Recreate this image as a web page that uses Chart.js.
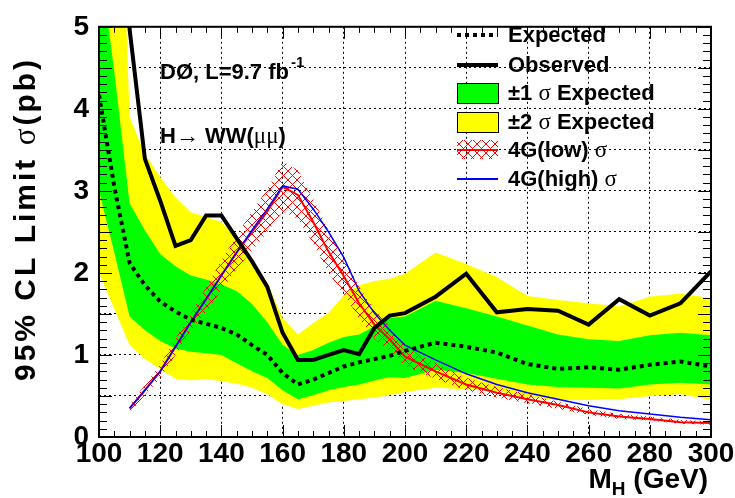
<!DOCTYPE html>
<html><head><meta charset="utf-8">
<script src="https://cdn.jsdelivr.net/npm/chart.js@4"></script>
<style>html,body{margin:0;padding:0;background:#fff;}#wrap{width:735px;height:498px;position:relative;}</style>
</head><body><div id="wrap"><canvas id="c" width="735" height="498"></canvas></div>
<script>
const masses = [100,105,110,115,120,125,130,135,140,145,150,155,160,165,170,175,180,185,190,195,200,210,220,230,240,250,260,270,280,290,300];
const observed = [12,9,4.97,3.39,2.88,2.33,2.40,2.70,2.70,2.42,2.14,1.83,1.27,0.94,0.94,1.00,1.06,1.01,1.33,1.48,1.51,1.71,1.99,1.52,1.56,1.54,1.37,1.68,1.48,1.63,2.02];
const expected = [4.17,3.05,2.12,1.85,1.65,1.53,1.43,1.38,1.33,1.25,1.12,1.00,0.78,0.64,0.70,0.78,0.86,0.91,0.95,0.99,1.05,1.15,1.10,1.03,0.89,0.83,0.85,0.82,0.88,0.92,0.86];
const sigma1Up = [5.9,4.45,2.85,2.52,2.23,2.08,1.97,1.92,1.86,1.78,1.62,1.40,1.12,1.00,1.06,1.15,1.22,1.25,1.35,1.45,1.47,1.66,1.57,1.47,1.36,1.25,1.19,1.17,1.24,1.27,1.24];
const sigma1Dn = [3.0,2.25,1.47,1.30,1.17,1.08,1.04,1.02,1.00,0.90,0.80,0.72,0.57,0.46,0.51,0.57,0.61,0.64,0.69,0.73,0.72,0.82,0.78,0.71,0.64,0.61,0.60,0.59,0.64,0.66,0.64];
const sigma2Up = [15,9.3,3.9,3.45,3.17,2.92,2.74,2.68,2.62,2.42,2.17,1.88,1.45,1.25,1.39,1.51,1.73,1.85,1.90,1.93,1.99,2.25,2.11,1.95,1.72,1.67,1.63,1.59,1.71,1.75,1.69];
const sigma2Dn = [2.0,1.56,1.12,0.95,0.83,0.71,0.69,0.71,0.68,0.65,0.60,0.52,0.40,0.34,0.38,0.42,0.44,0.46,0.48,0.51,0.55,0.60,0.58,0.56,0.48,0.45,0.45,0.46,0.50,0.52,0.45];
const g4Low = [null,null,0.35,0.57,0.80,1.10,1.40,1.68,1.97,2.25,2.50,2.75,3.05,2.95,2.62,2.26,1.96,1.63,1.37,1.19,0.98,0.80,0.64,0.54,0.46,0.39,0.30,0.25,0.22,0.18,0.17];
const g4LowUp = [null,null,0.40,0.63,0.88,1.20,1.50,1.83,2.15,2.46,2.75,3.02,3.36,3.25,2.90,2.52,2.20,1.83,1.55,1.34,1.10,0.90,0.72,0.61,0.52,0.43,0.34,0.28,0.25,0.21,0.19];
const g4LowDn = [null,null,0.30,0.51,0.72,1.00,1.30,1.53,1.79,2.05,2.27,2.50,2.75,2.66,2.36,2.00,1.74,1.45,1.20,1.05,0.87,0.71,0.57,0.48,0.41,0.34,0.27,0.22,0.20,0.16,0.15];
const g4High = [null,null,0.35,0.57,0.80,1.10,1.40,1.68,1.97,2.25,2.52,2.78,3.06,3.02,2.78,2.50,2.19,1.78,1.51,1.30,1.12,0.94,0.77,0.64,0.54,0.46,0.38,0.32,0.28,0.24,0.21];
const xTicks = [100,120,140,160,180,200,220,240,260,280,300];
const yTicks = [0,1,2,3,4,5];

function pts(vals){ return masses.map((m,i)=>({x:m,y:vals[i]})).filter(p=>p.y!==null); }

function makeHatch(){
  const n=9;
  const c=document.createElement('canvas'); c.width=n; c.height=n;
  const g=c.getContext('2d'); g.strokeStyle='#ff0000'; g.lineWidth=1;
  g.beginPath(); g.moveTo(0,0); g.lineTo(n,n); g.moveTo(n,0); g.lineTo(0,n); g.stroke();
  return g.createPattern(c,'repeat');
}
const hatch = makeHatch();

const BOLD = '"Liberation Sans", Arial, sans-serif';
const SERIF = '"Liberation Serif", "DejaVu Serif", serif';

function runsWidth(ctx, runs){ let w=0; for(const r of runs){ ctx.font=r.f; w+=ctx.measureText(r.t).width; } return w; }
function drawRuns(ctx, x, y, runs){
  let cx=x;
  for(const r of runs){ ctx.font=r.f; ctx.fillText(r.t, cx, y+(r.dy||0)); cx+=ctx.measureText(r.t).width; }
  return cx;
}

const base = {pointRadius:0, tension:0, borderWidth:0, borderColor:'rgba(0,0,0,0)', fill:false};

const overlay = {
  id:'overlay',
  beforeDraw(chart){ const c=chart.ctx; c.save(); c.fillStyle='#fff'; c.fillRect(0,0,chart.width,chart.height); c.restore(); },
  afterDraw(chart){
    const ctx=chart.ctx, a=chart.chartArea, xs=chart.scales.x, ys=chart.scales.y;
    ctx.save();
    ctx.strokeStyle='#000'; ctx.lineWidth=1;
    ctx.beginPath();
    for(let m=100;m<=300;m+=5){
      const px=Math.round(xs.getPixelForValue(m))+0.5, L=(m%20===0)?12:6;
      ctx.moveTo(px,a.bottom); ctx.lineTo(px,a.bottom-L);
      ctx.moveTo(px,a.top); ctx.lineTo(px,a.top+L);
    }
    for(let k=0;k<=50;k++){
      const v=k/10, py=Math.round(ys.getPixelForValue(v))+0.5, L=(k%5===0)?13:8;
      ctx.moveTo(a.left,py); ctx.lineTo(a.left+L,py);
      ctx.moveTo(a.right,py); ctx.lineTo(a.right-L,py);
    }
    ctx.stroke();
    ctx.lineWidth=2; ctx.strokeRect(a.left,a.top,a.right-a.left,a.bottom-a.top);

    // legend
    const lx0=457, lx1=498, tx=508;
    ctx.textBaseline='middle'; ctx.fillStyle='#000';
    ctx.lineWidth=4; ctx.setLineDash([4,4]);
    ctx.beginPath(); ctx.moveTo(lx0,35); ctx.lineTo(lx1,35); ctx.stroke();
    ctx.setLineDash([]);
    ctx.beginPath(); ctx.moveTo(lx0,65); ctx.lineTo(lx1,65); ctx.stroke();
    ctx.lineWidth=1;
    ctx.fillStyle='#00ff00'; ctx.fillRect(lx0,83,41,20); ctx.strokeRect(lx0+0.5,83.5,41,20);
    ctx.fillStyle='#ffff00'; ctx.fillRect(lx0,112,41,20); ctx.strokeRect(lx0+0.5,112.5,41,20);
    ctx.fillStyle=hatch; ctx.fillRect(lx0,140,41,19);
    ctx.strokeStyle='#ff0000'; ctx.lineWidth=2; ctx.beginPath(); ctx.moveTo(lx0,150); ctx.lineTo(lx1,150); ctx.stroke();
    ctx.strokeStyle='#0000ff'; ctx.lineWidth=2; ctx.beginPath(); ctx.moveTo(lx0,179); ctx.lineTo(lx1,179); ctx.stroke();
    ctx.fillStyle='#000';
    const B='bold 22px '+BOLD, S='23px '+SERIF;
    drawRuns(ctx,tx,36,[{t:'Expected',f:B}]);
    drawRuns(ctx,tx,66,[{t:'Observed',f:B}]);
    drawRuns(ctx,tx,94,[{t:'±1 ',f:B},{t:'σ',f:S},{t:' Expected',f:B}]);
    drawRuns(ctx,tx,123,[{t:'±2 ',f:B},{t:'σ',f:S},{t:' Expected',f:B}]);
    drawRuns(ctx,tx,151,[{t:'4G(low) ',f:B},{t:'σ',f:S}]);
    drawRuns(ctx,tx,180,[{t:'4G(high) ',f:B},{t:'σ',f:S}]);

    // annotations
    ctx.textBaseline='alphabetic';
    let e=drawRuns(ctx,160,79,[{t:'DØ, L=9.7 fb',f:B}]);
    drawRuns(ctx,e+2,67,[{t:'-1',f:'bold 15px '+BOLD}]);
    drawRuns(ctx,160,143,[{t:'H',f:B},{t:'→',f:S},{t:' WW(',f:B},{t:'μμ',f:S},{t:')',f:B}]);

    // x title
    const XT='bold 28px '+BOLD;
    const xr=[{t:'M',f:XT},{t:'H',f:'bold 19px '+BOLD,dy:7},{t:' (GeV)',f:XT}];
    drawRuns(ctx,708-runsWidth(ctx,xr),488,xr);

    // y title
    const YT='bold 30px '+BOLD, YS='31px '+SERIF;
    const yr=[{t:'95% CL Limit ',f:YT},{t:'σ',f:YS},{t:'(pb)',f:YT}];
    ctx.translate(35,219); ctx.rotate(-Math.PI/2);
    ctx.letterSpacing='3px';
    const w=runsWidth(ctx,yr);
    drawRuns(ctx,-w/2,0,yr);
    ctx.restore();
  }
};

new Chart(document.getElementById('c'),{
  type:'line',
  data:{datasets:[
    Object.assign({},base,{label:'2s low',data:pts(sigma2Dn),order:6}),
    Object.assign({},base,{label:'±2 σ Expected',data:pts(sigma2Up),fill:0,backgroundColor:'#ffff00',order:6}),
    Object.assign({},base,{label:'1s low',data:pts(sigma1Dn),order:5}),
    Object.assign({},base,{label:'±1 σ Expected',data:pts(sigma1Up),fill:2,backgroundColor:'#00ff00',order:5}),
    Object.assign({},base,{label:'4G low dn',data:pts(g4LowDn),order:4}),
    Object.assign({},base,{label:'4G low band',data:pts(g4LowUp),fill:4,backgroundColor:hatch,order:4}),
    Object.assign({},base,{label:'4G(low) σ',data:pts(g4Low),borderColor:'#ff0000',borderWidth:2,order:3}),
    Object.assign({},base,{label:'4G(high) σ',data:pts(g4High),borderColor:'#0000ff',borderWidth:1.5,order:2}),
    Object.assign({},base,{label:'Expected',data:pts(expected),borderColor:'#000',borderWidth:4,borderDash:[4,4],order:1}),
    Object.assign({},base,{label:'Observed',data:pts(observed),borderColor:'#000',borderWidth:4,order:0})
  ]},
  options:{
    responsive:false, animation:false, devicePixelRatio:1,
    layout:{padding:{top:17,right:24,left:0,bottom:0}},
    plugins:{legend:{display:false},tooltip:{enabled:false}},
    scales:{
      x:{type:'linear',min:100,max:300,z:1,
        afterBuildTicks:s=>{s.ticks=xTicks.map(v=>({value:v}));},
        ticks:{font:{family:BOLD,size:28,weight:'bold'},color:'#000',padding:0,maxRotation:0,autoSkip:false},
        grid:{color:'#000',lineWidth:1,drawTicks:false},
        border:{display:false,dash:[2,3]},
        afterFit:s=>{s.height=61;}
      },
      y:{min:0,max:5,z:1,
        ticks:{stepSize:0.5,font:{family:BOLD,size:28,weight:'bold'},color:'#000',padding:10,
          callback:v=>yTicks.includes(v)?String(v):''},
        grid:{color:'#000',lineWidth:1,drawTicks:false},
        border:{display:false,dash:[2,3]},
        afterFit:s=>{s.width=99;}
      }
    }
  },
  plugins:[overlay]
});
</script></body></html>
